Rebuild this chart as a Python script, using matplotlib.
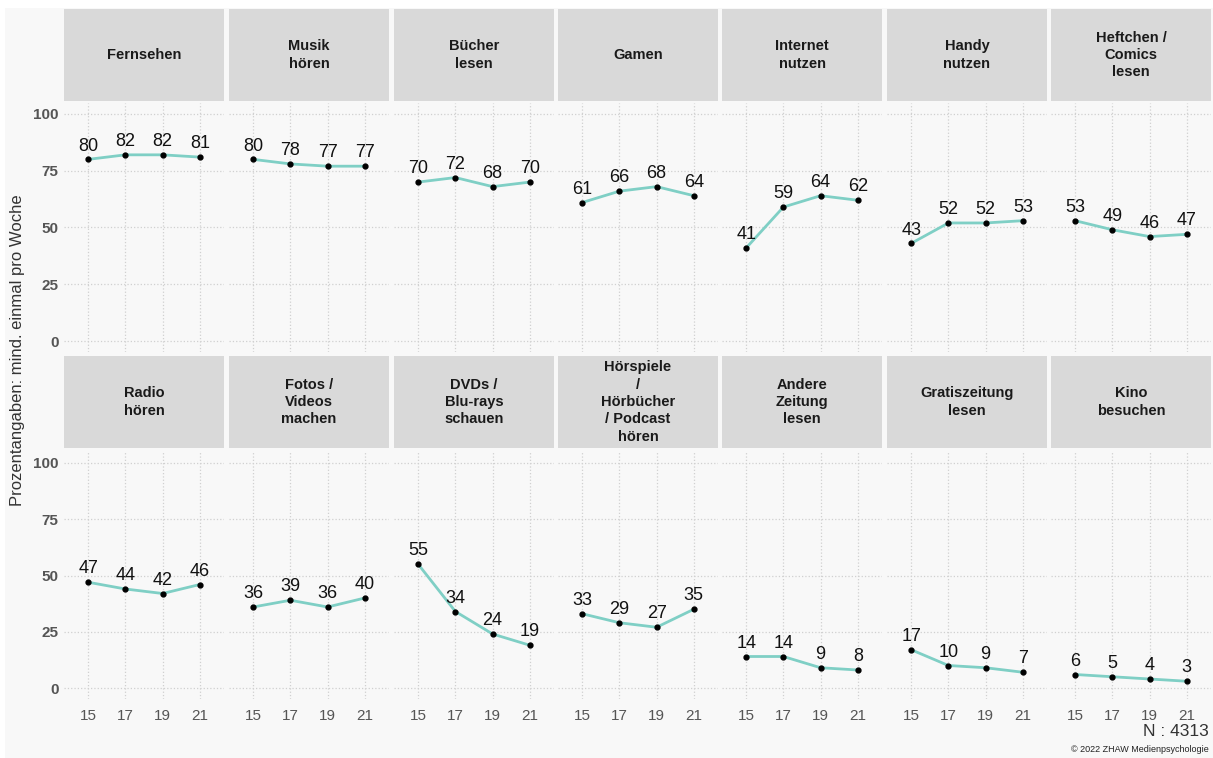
import matplotlib
matplotlib.use("Agg")
import matplotlib.pyplot as plt
from matplotlib.patches import Rectangle

plt.rcParams['font.family'] = ['Liberation Sans', 'DejaVu Sans']

# Daten
jahre = [15, 17, 19, 21]
kategorien = ["Fernsehen", "Musik\nhören", "Bücher\nlesen", "Gamen",
              "Internet\nnutzen", "Handy\nnutzen", "Heftchen /\nComics\nlesen",
              "Radio\nhören", "Fotos /\nVideos\nmachen", "DVDs /\nBlu-rays\nschauen",
              "Hörspiele\n/\nHörbücher\n/ Podcast\nhören", "Andere\nZeitung\nlesen",
              "Gratiszeitung\nlesen", "Kino\nbesuchen"]
werte = [
    [80, 82, 82, 81],
    [80, 78, 77, 77],
    [70, 72, 68, 70],
    [61, 66, 68, 64],
    [41, 59, 64, 62],
    [43, 52, 52, 53],
    [53, 49, 46, 47],
    [47, 44, 42, 46],
    [36, 39, 36, 40],
    [55, 34, 24, 19],
    [33, 29, 27, 35],
    [14, 14, 9, 8],
    [17, 10, 9, 7],
    [6, 5, 4, 3],
]

W, H = 1213, 758
fig = plt.figure(figsize=(W / 100, H / 100), dpi=100, facecolor='white')
fig.patches.append(Rectangle((5 / W, 0), 1 - 5 / W, 1 - 8 / H, transform=fig.transFigure,
                             facecolor='#f8f8f8', edgecolor='none', zorder=-10))

spalten_x = [64, 229, 394, 558, 722, 887, 1051]
breite = 160
reihen = [(9, 101, 102.6, 352.4), (356, 448, 451.75, 699.25)]  # strip oben/unten, achse oben/unten


def box(x0, y0, x1, y1):
    return [x0 / W, 1 - y1 / H, (x1 - x0) / W, (y1 - y0) / H]


for i, (name, vals) in enumerate(zip(kategorien, werte)):
    r, c = divmod(i, 7)
    s0, s1, a0, a1 = reihen[r]
    x0 = spalten_x[c]

    # Streifen mit Titel
    st = fig.add_axes(box(x0, s0, x0 + breite, s1))
    st.set_facecolor('#d9d9d9')
    st.set_xticks([])
    st.set_yticks([])
    for sp in st.spines.values():
        sp.set_visible(False)
    st.text(0.5, 0.5, name, ha='center', va='center', fontsize=10.5,
            fontweight='bold', color='#1a1a1a', linespacing=1.3, transform=st.transAxes)

    ax = fig.add_axes(box(x0, a0, x0 + breite, a1))
    ax.set_facecolor('none')
    ax.plot(jahre, vals, color='#7fcfc5', lw=2, zorder=2)
    ax.plot(jahre, vals, 'o', color='black', ms=3.5, zorder=3)
    for x, v in zip(jahre, vals):
        ax.annotate(str(v), (x, v), xytext=(0, 3.5), textcoords='offset points',
                    ha='center', va='bottom', fontsize=13, color='#111111')
    ax.set_xlim(13.7, 22.3)
    ax.set_ylim(-5, 105)
    ax.set_yticks([0, 25, 50, 75, 100])
    ax.set_xticks(jahre)
    ax.grid(True, linestyle=':', color='#d0d0d0', lw=0.9)
    ax.set_axisbelow(True)
    for sp in ax.spines.values():
        sp.set_visible(False)
    ax.tick_params(length=0, pad=4)
    if c == 0:
        ax.tick_params(axis='y', labelsize=11, labelcolor='#555555')
        for t in ax.get_yticklabels():
            t.set_fontweight('bold')
    else:
        ax.set_yticklabels([])
    if r == 1:
        ax.tick_params(axis='x', labelsize=11, labelcolor='#555555', pad=7)
    else:
        ax.set_xticklabels([])

fig.text(18 / W, 1 - 350 / H, "Prozentangaben: mind. einmal pro Woche", rotation=90,
         ha='center', va='center', fontsize=12, color='#333333')
fig.text(1209 / W, 1 - 732 / H, "N : 4313", ha='right', va='center', fontsize=12.5, color='#333333')
fig.text(1209 / W, 1 - 750 / H, "© 2022 ZHAW Medienpsychologie", ha='right', va='center',
         fontsize=6.5, color='#222222')

fig.savefig('out.png', dpi=100, facecolor=fig.get_facecolor())
